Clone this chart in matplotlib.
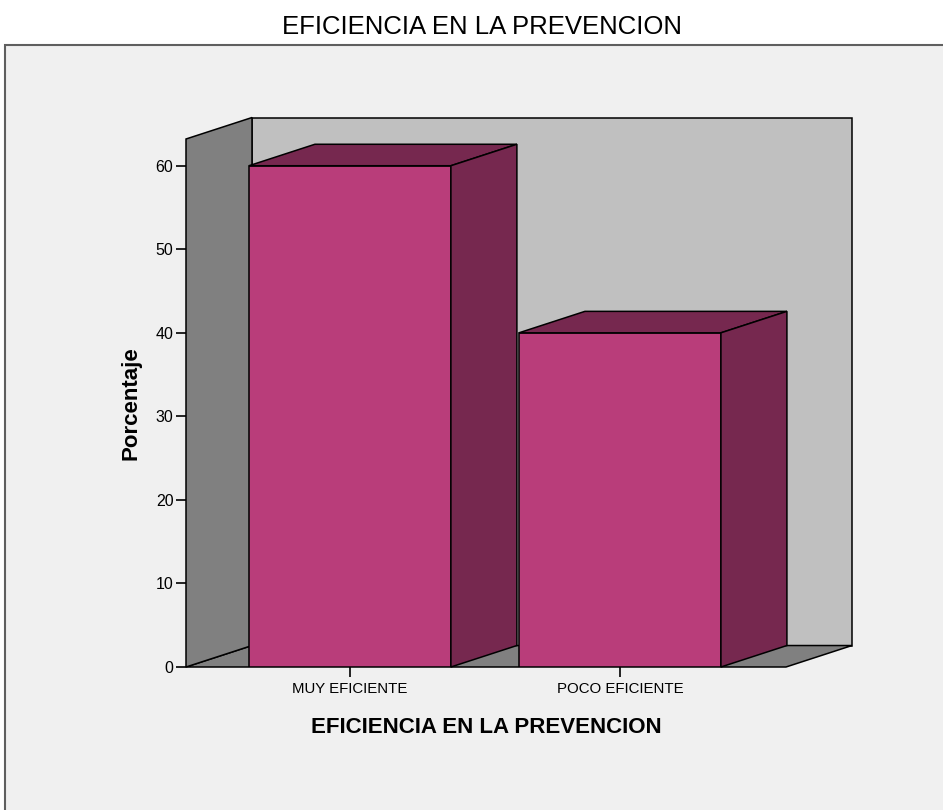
import numpy as np
import matplotlib
matplotlib.use("Agg")
import matplotlib.pyplot as plt
from matplotlib.patches import Polygon, Rectangle

## bar data ##
categorias = ["MUY EFICIENTE", "POCO EFICIENTE"]
porcentaje = [60.0, 40.0]
yticks = [0, 10, 20, 30, 40, 50, 60]

titulo = "EFICIENCIA EN LA PREVENCION"

## colours of the 3d box ##
C_FRENTE = "#b93d7a"
C_LADO = "#76284f"
C_PARED_IZQ = "#808080"
C_PARED_FONDO = "#c0c0c0"
C_PISO = "#808080"
C_FONDO = "#f0f0f0"

plt.rcParams["font.family"] = ["Liberation Sans", "DejaVu Sans"]

fig = plt.figure(figsize=(9.43, 8.10), dpi=100)
fig.patch.set_facecolor("white")

# grey panel behind the chart, open to the right and bottom
fig.add_artist(Rectangle((5 / 943, -0.05), 1.2, 765 / 810 + 0.05,
                         transform=fig.transFigure, facecolor=C_FONDO,
                         edgecolor="#5f5f5f", linewidth=1.5, zorder=0))

fig.text(0.511, 1 - 27 / 810, titulo, ha="center", va="center", fontsize=18.5)

ax = fig.add_axes([186 / 943, 143 / 810, 600 / 943, 528 / 810])
ax.set_facecolor("none")

x = np.arange(len(categorias))
ancho = 0.748
x0, x1 = -0.607, 1.615
ytop = 63.2
dx, dy = 0.2444, 2.57  # depth of the 3d effect, in data units

ax.set_xlim(x0, x1)
ax.set_ylim(0, ytop)


def cara(pts, color, z):
    ax.add_patch(Polygon(pts, closed=True, facecolor=color, edgecolor="black",
                         linewidth=1.1, clip_on=False, zorder=z))


# walls and floor
cara([(x0 + dx, dy), (x1 + dx, dy), (x1 + dx, ytop + dy), (x0 + dx, ytop + dy)],
     C_PARED_FONDO, 1)
cara([(x0, 0), (x1, 0), (x1 + dx, dy), (x0 + dx, dy)], C_PISO, 1.5)
cara([(x0, 0), (x0 + dx, dy), (x0 + dx, ytop + dy), (x0, ytop)], C_PARED_IZQ, 1.5)

# bars: front face from ax.bar, top and side as polygons
ax.bar(x, porcentaje, width=ancho, color=C_FRENTE, edgecolor="black",
       linewidth=1.1, zorder=3)
for xi, v in zip(x, porcentaje):
    izq, der = xi - ancho / 2, xi + ancho / 2
    cara([(izq, v), (der, v), (der + dx, v + dy), (izq + dx, v + dy)], C_LADO, 3)
    cara([(der, 0), (der + dx, dy), (der + dx, v + dy), (der, v)], C_LADO, 3)

for s in ax.spines.values():
    s.set_visible(False)

ax.set_yticks(yticks)
ax.set_xticks(x)
ax.set_xticklabels(categorias)
ax.tick_params(axis="y", direction="out", length=7, width=1.2, pad=2,
               labelsize=11.5, colors="black")
ax.tick_params(axis="x", direction="out", length=7, width=1.2, pad=4,
               labelsize=10.8, colors="black")

ax.set_ylabel("Porcentaje", fontsize=16, fontweight="bold", labelpad=10)
ax.set_xlabel(titulo, fontsize=16, fontweight="bold", labelpad=15)

fig.savefig("out.png", dpi=100)
